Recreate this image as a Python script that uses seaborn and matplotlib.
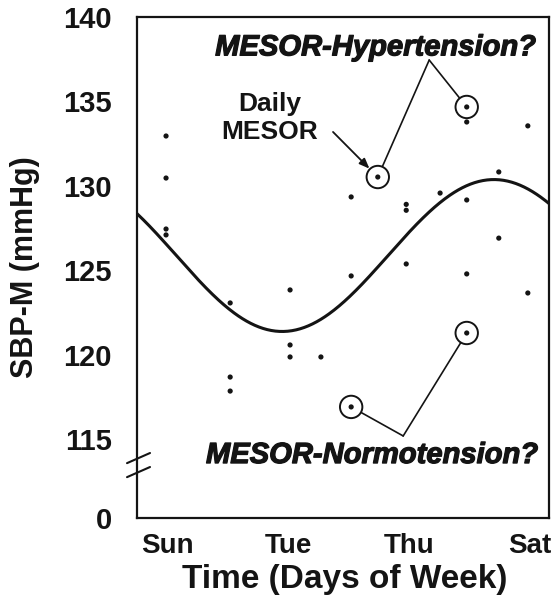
import numpy as np
import pandas as pd
import matplotlib
matplotlib.use("Agg")
import matplotlib.pyplot as plt
import matplotlib.patheffects as pe
import seaborn as sns

# Single systolic readings (day of week as fractional day from Sunday 00:00)
days = [0.48, 0.48, 0.48, 0.48,
        1.54, 1.54, 1.54,
        2.53, 2.53, 2.53,
        3.04,
        3.54, 3.54, 3.54,
        3.98,
        4.45, 4.45, 4.45,
        5.01,
        5.45, 5.45, 5.45, 5.45, 5.45,
        5.98, 5.98,
        6.46, 6.46]
sbp = [132.95, 130.46, 127.44, 127.09,
       123.06, 118.67, 117.84,
       123.83, 120.57, 119.86,
       119.86,
       129.34, 124.66, 116.90,
       130.52,
       128.90, 128.55, 125.37,
       129.57,
       134.67, 133.78, 129.16, 124.78, 121.28,
       130.82, 126.90,
       133.55, 123.65]

# Highlighted daily means
hyper_days = [3.98, 5.45]
hyper_sbp = [130.52, 134.67]
normo_days = [3.54, 5.45]
normo_sbp = [116.90, 121.28]

# Fitted circaseptan cosinor
mesor = 125.87
amplitude = 4.5
acrophase_day = 5.9
period_days = 7.0

day_labels = ["Sun", "Tue", "Thu", "Sat"]
day_label_pos = [0.5, 2.5, 4.5, 6.5]
y_ticks = [115, 120, 125, 130, 135, 140]

# Broken axis: the zero level sits just below the 115 tick
zero_pos = 110.32

sns.set_theme(style="white")
plt.rcParams["font.family"] = ["Liberation Sans", "DejaVu Sans"]
plt.rcParams["font.weight"] = "bold"
ink = "#141414"
heavy = [pe.withStroke(linewidth=0.9, foreground=ink)]

fig = plt.figure(figsize=(5.51, 6.0), dpi=100)
ax = fig.add_axes([137 / 551, 1 - 518 / 600, (549 - 137) / 551, (518 - 17) / 600])

pts = pd.DataFrame({"day": days, "sbp": sbp})
sns.scatterplot(data=pts, x="day", y="sbp", ax=ax, color=ink, s=14,
                edgecolor="none", zorder=4)

t = np.linspace(0, 6.81, 400)
fit = pd.DataFrame({"day": t,
                    "sbp": mesor + amplitude * np.cos(2 * np.pi * (t - acrophase_day) / period_days)})
sns.lineplot(data=fit, x="day", y="sbp", ax=ax, color=ink, lw=2.2, zorder=3)

circ = pd.DataFrame({"day": hyper_days + normo_days, "sbp": hyper_sbp + normo_sbp})
sns.scatterplot(data=circ, x="day", y="sbp", ax=ax, s=260, facecolor="none",
                edgecolor=ink, linewidth=1.4, zorder=5)

ax.set_xlim(0, 6.81)
ax.set_ylim(zero_pos, 140)

ax.set_yticks([zero_pos] + y_ticks)
ax.set_yticklabels(["0"] + [str(v) for v in y_ticks])
ax.set_xticks(range(7))
ax.set_xticklabels([])
ax.set_xticks(day_label_pos, minor=True)
ax.set_xticklabels(day_labels, minor=True)
ax.tick_params(axis="both", which="major", direction="out", length=8, width=1.5,
               color=ink, labelsize=21, labelcolor=ink)
ax.tick_params(axis="y", which="major", pad=10)
ax.tick_params(axis="x", which="minor", length=0, labelsize=20, labelcolor=ink, pad=11)

for side in ["left", "bottom", "top", "right"]:
    ax.spines[side].set_visible(True)
    ax.spines[side].set_color(ink)
    ax.spines[side].set_linewidth(1.6)

ax.set_xlabel("Time (Days of Week)", fontsize=24, fontweight="bold", color=ink)
ax.set_ylabel("SBP-M (mmHg)", fontsize=22, fontweight="bold", color=ink)
ax.xaxis.set_label_coords(0.505, -0.092)
ax.yaxis.set_label_coords(-0.235, 0.5)

# Axis break marks
for yb in [113.04, 113.87]:
    ax.plot([-0.165, 0.215], [yb - 0.3, yb + 0.3], color=ink, lw=1.5,
            clip_on=False, zorder=6)

# Annotations
ax.text(3.94, 138.2, "MESOR-Hypertension?", fontsize=21, fontweight="bold",
        fontstyle="italic", ha="center", va="center", color=ink, path_effects=heavy)
ax.text(3.88, 114.05, "MESOR-Normotension?", fontsize=21, fontweight="bold",
        fontstyle="italic", ha="center", va="center", color=ink, path_effects=heavy)
ax.text(2.2, 134.85, "Daily", fontsize=19, fontweight="bold", ha="center",
        va="center", color=ink)
ax.text(2.2, 133.2, "MESOR", fontsize=19, fontweight="bold", ha="center",
        va="center", color=ink)

hyper_apex = (4.83, 137.45)
normo_apex = (4.40, 115.18)
for d, v in zip(hyper_days, hyper_sbp):
    ax.annotate("", xy=(d, v), xytext=hyper_apex,
                arrowprops=dict(arrowstyle="-", shrinkA=0, shrinkB=8.5, lw=1.2, color=ink))
for d, v in zip(normo_days, normo_sbp):
    ax.annotate("", xy=(d, v), xytext=normo_apex,
                arrowprops=dict(arrowstyle="-", shrinkA=0, shrinkB=8.5, lw=1.2, color=ink))

ax.annotate("", xy=(hyper_days[0], hyper_sbp[0]), xytext=(3.24, 133.19),
            arrowprops=dict(arrowstyle="-|>,head_length=0.5,head_width=0.2",
                            shrinkA=0, shrinkB=8.5, lw=1.3, color=ink))

fig.savefig("out.png", dpi=100)
